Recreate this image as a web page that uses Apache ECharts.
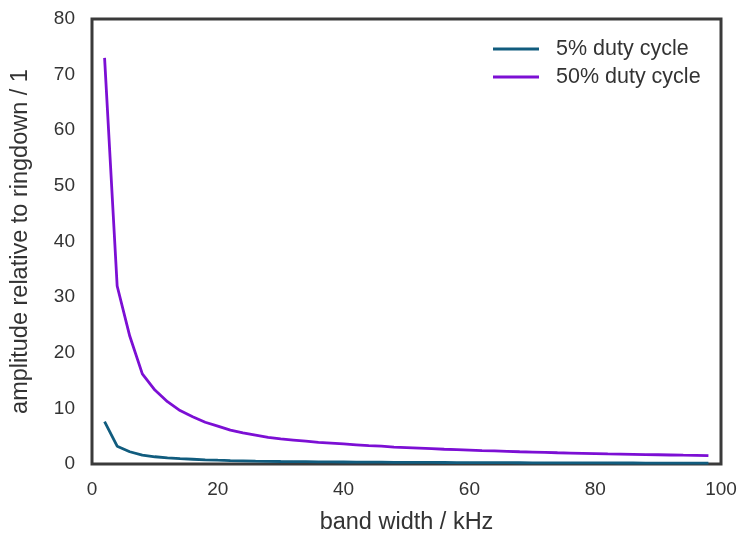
<!DOCTYPE html>
<html>
<head>
<meta charset="utf-8">
<script src="https://cdn.jsdelivr.net/npm/echarts@6/dist/echarts.min.js"></script>
<style>
  html, body { margin: 0; padding: 0; background: #fff; }
  #chart { width: 741px; height: 537px; }
</style>
</head>
<body>
<div id="chart"></div>
<script>
// band width in kHz
const bandWidth = [2, 4, 6, 8, 10, 12, 14, 16, 18, 20, 22, 24, 26, 28, 30, 32, 34, 36, 38, 40,
    42, 44, 46, 48, 50, 52, 54, 56, 58, 60, 62, 64, 66, 68, 70, 72, 74, 76, 78, 80,
    82, 84, 86, 88, 90, 92, 94, 96, 98];

// amplitude relative to ringdown
const duty5 = [7.6, 3.2, 2.2, 1.6, 1.3, 1.1, 0.95, 0.85, 0.75, 0.68, 0.62, 0.57, 0.52, 0.48, 0.45, 0.43, 0.41, 0.39, 0.37, 0.36,
    0.34, 0.33, 0.32, 0.31, 0.3, 0.29, 0.28, 0.27, 0.26, 0.25, 0.245, 0.24, 0.23, 0.225, 0.22, 0.21, 0.205, 0.2, 0.195, 0.19,
    0.185, 0.18, 0.178, 0.175, 0.17, 0.165, 0.16, 0.157, 0.155];
const duty50 = [73, 32, 23, 16.2, 13.3, 11.2, 9.6, 8.5, 7.5, 6.8, 6.1, 5.6, 5.2, 4.8, 4.5, 4.3, 4.1, 3.9, 3.75, 3.6,
    3.45, 3.3, 3.2, 3.05, 2.95, 2.85, 2.75, 2.65, 2.58, 2.5, 2.42, 2.35, 2.28, 2.2, 2.14, 2.08, 2.02, 1.97, 1.92, 1.87,
    1.82, 1.78, 1.74, 1.7, 1.66, 1.62, 1.58, 1.55, 1.5];

const seriesNames = ['5% duty cycle', '50% duty cycle'];
const seriesColors = ['#115c7e', '#7c0fd4'];

const xTicks = { min: 0, max: 100, interval: 20 };
const yTicks = { min: 0, max: 80, interval: 10 };

const chart = echarts.init(document.getElementById('chart'), null, { renderer: 'canvas' });

const font = 'Liberation Sans, Arial, sans-serif';
const textColor = '#333';

function toPairs(xs, ys) {
    return xs.map((x, i) => [x, ys[i]]);
}

chart.setOption({
    animation: false,
    backgroundColor: '#fff',
    textStyle: { fontFamily: font },
    grid: {
        left: 92, right: 20, top: 19, bottom: 73,
        // keep the grid where it is, names may sit near the edge
        outerBoundsMode: 'none',
        containLabel: false,
        show: true,
        borderColor: '#3a3a3a',
        borderWidth: 3,
        backgroundColor: '#fff'
    },
    legend: {
        left: 488,
        top: 33,
        orient: 'vertical',
        icon: 'rect',
        itemWidth: 46,
        itemHeight: 3,
        itemGap: 6,
        textStyle: { fontSize: 21.5, lineHeight: 22, color: textColor, fontFamily: font, padding: [0, 0, 0, 12] },
        data: seriesNames
    },
    xAxis: {
        type: 'value',
        min: xTicks.min, max: xTicks.max, interval: xTicks.interval,
        name: 'band width / kHz',
        nameLocation: 'middle',
        nameGap: 47,
        nameTextStyle: { fontSize: 23.5, color: textColor, fontFamily: font },
        axisLine: { show: false },
        axisTick: { show: false },
        splitLine: { show: false },
        axisLabel: { fontSize: 19, color: textColor, margin: 16, fontFamily: font }
    },
    yAxis: {
        type: 'value',
        min: yTicks.min, max: yTicks.max, interval: yTicks.interval,
        name: 'amplitude relative to ringdown / 1',
        nameLocation: 'middle',
        nameGap: 59,
        nameTextStyle: { fontSize: 23.5, color: textColor, fontFamily: font },
        axisLine: { show: false },
        axisTick: { show: false },
        splitLine: { show: false },
        axisLabel: { fontSize: 19, color: textColor, margin: 17, fontFamily: font }
    },
    series: [
        {
            name: seriesNames[0],
            type: 'line',
            data: toPairs(bandWidth, duty5),
            symbol: 'none',
            color: seriesColors[0],
            lineStyle: { width: 2.8, color: seriesColors[0] }
        },
        {
            name: seriesNames[1],
            type: 'line',
            data: toPairs(bandWidth, duty50),
            symbol: 'none',
            color: seriesColors[1],
            lineStyle: { width: 2.8, color: seriesColors[1] }
        }
    ]
});
</script>
</body>
</html>
